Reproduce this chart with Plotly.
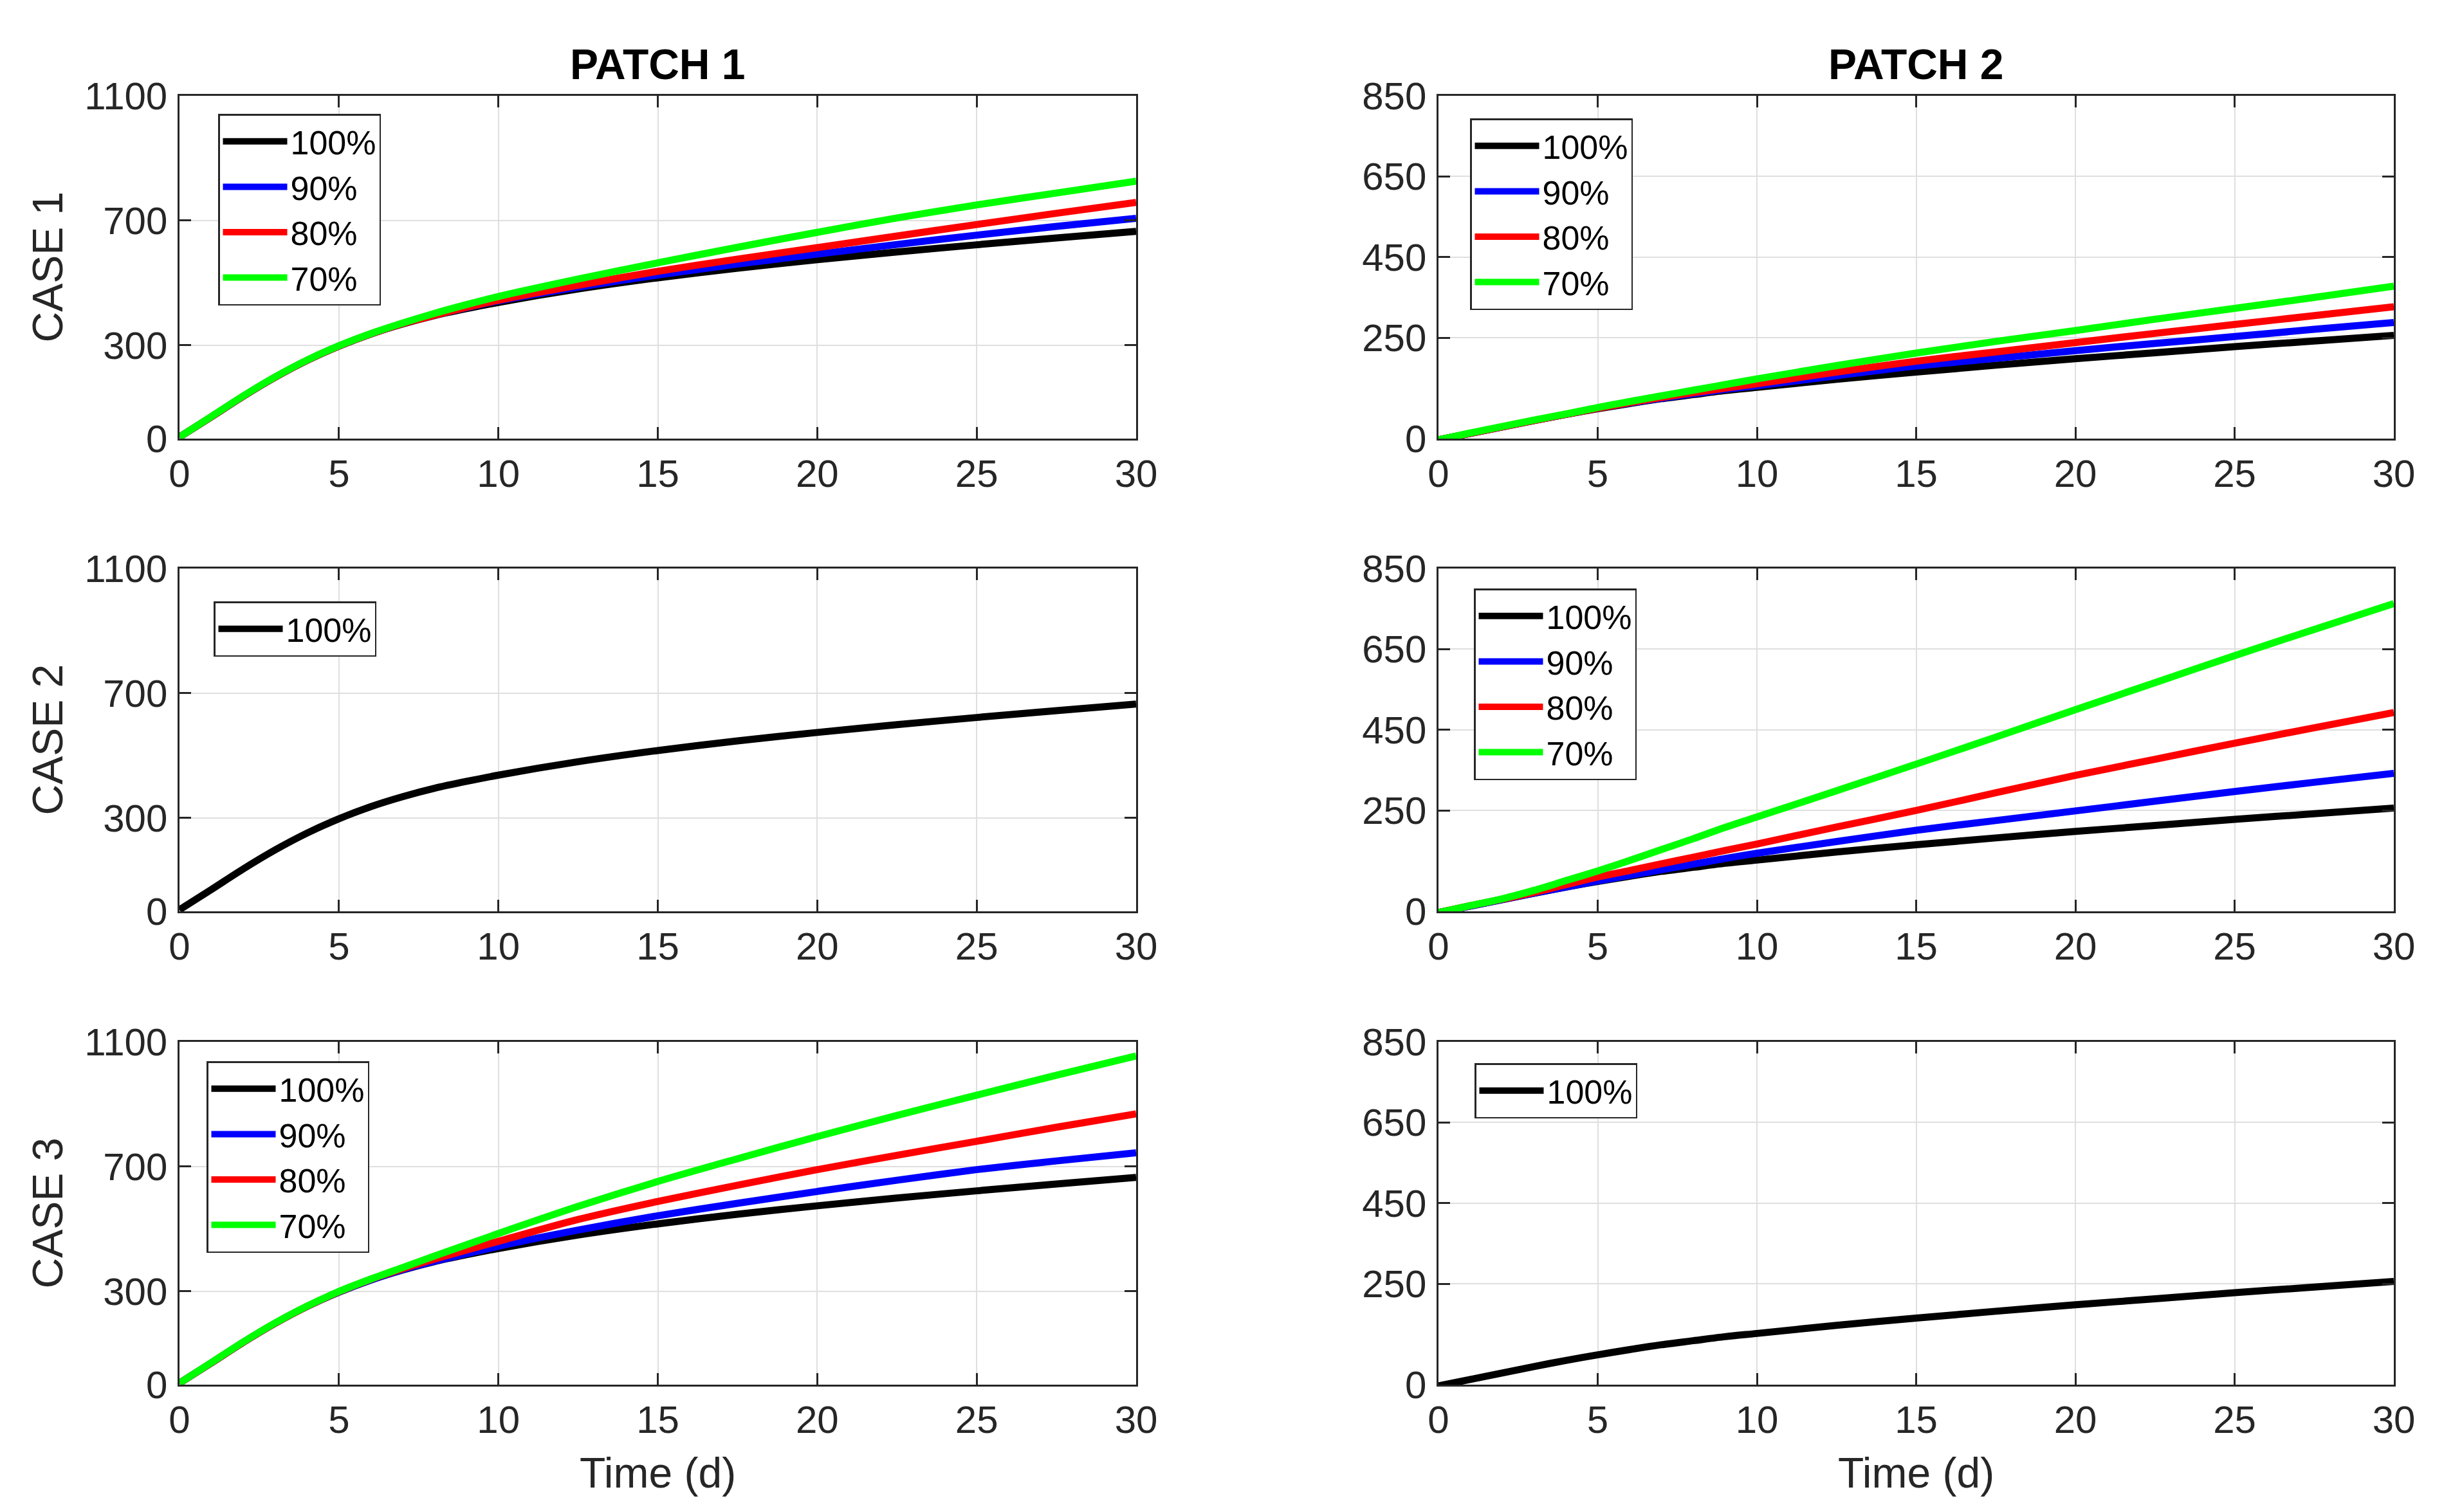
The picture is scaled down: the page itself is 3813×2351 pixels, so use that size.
import plotly.graph_objects as go

W, H = 3813, 2351
OFF = 8  # page body offset in px

time_d = [0, 1, 2, 3, 4, 5, 6, 7, 8, 9, 10, 12.5, 15, 17.5, 20, 22.5, 25, 27.5, 30]
labels = ["100%", "90%", "80%", "70%"]
colors = ["#000000", "#0000ff", "#ff0000", "#00ff00"]

# PATCH 1
p1_base = [5, 70, 136, 197, 251, 297, 336, 368, 395, 417, 437, 480, 516, 547, 574, 599, 622, 644, 665]
p1c1_90 = [5, 70, 136, 197, 251, 297, 336, 369, 396, 420, 442, 486, 525, 560, 592, 623, 653, 681, 707]
p1c1_80 = [5, 70, 136, 197, 251, 297, 336, 369, 396, 421, 444, 492, 537, 576, 613, 650, 687, 723, 758]
p1c1_70 = [5, 71, 137, 198, 252, 298, 337, 371, 402, 430, 456, 512, 564, 614, 662, 708, 750, 788, 826]
p1c3_90 = [5, 70, 136, 197, 251, 297, 336, 369, 396, 420, 444, 496, 542, 582, 620, 656, 690, 718, 744]
p1c3_80 = [5, 70, 136, 197, 251, 298, 338, 372, 403, 432, 460, 530, 588, 640, 690, 736, 781, 826, 869]
p1c3_70 = [5, 71, 137, 198, 252, 299, 339, 376, 413, 449, 485, 572, 652, 725, 796, 864, 929, 993, 1055]

# PATCH 2
p2_base = [-3, 13, 29, 45, 60, 74, 87, 99, 109, 119, 127, 147, 165, 182, 198, 213, 228, 242, 256]
p2c1_90 = [-3, 13, 29, 45, 60, 75, 88, 100, 111, 122, 131, 156, 180, 199, 218, 236, 253, 271, 288]
p2c1_80 = [-3, 13, 29, 45, 60, 75, 89, 102, 114, 125, 136, 165, 192, 215, 238, 261, 283, 305, 327]
p2c1_70 = [-3, 14, 30, 46, 61, 77, 92, 106, 120, 134, 148, 181, 212, 241, 268, 296, 323, 350, 378]
p2c2_90 = [-3, 13, 29, 45, 60, 75, 89, 103, 117, 131, 144, 173, 201, 225, 249, 273, 297, 320, 342]
p2c2_80 = [-3, 14, 30, 47, 66, 85, 101, 118, 134, 151, 167, 209, 250, 294, 337, 377, 417, 455, 493]
p2c2_70 = [-3, 14, 31, 52, 76, 100, 126, 153, 180, 208, 234, 299, 365, 432, 500, 567, 634, 699, 763]

p1_ticks = [0, 300, 700, 1100]
p2_ticks = [0, 250, 450, 650, 850]
x_ticks = [0, 5, 10, 15, 20, 25, 30]

panels = [
    (1, 1, [p1_base, p1c1_90, p1c1_80, p1c1_70]),
    (1, 2, [p2_base, p2c1_90, p2c1_80, p2c1_70]),
    (2, 1, [p1_base]),
    (2, 2, [p2_base, p2c2_90, p2c2_80, p2c2_70]),
    (3, 1, [p1_base, p1c3_90, p1c3_80, p1c3_70]),
    (3, 2, [p2_base]),
]

col_px = {1: (279, 1766), 2: (2236, 3721)}
row_px = {1: (149, 682), 2: (884, 1417), 3: (1620, 2153)}
legend_px = {
    (1, 1): (339, 177), (1, 2): (2285, 184),
    (2, 1): (332, 935), (2, 2): (2291, 915),
    (3, 1): (321, 1650), (3, 2): (2292, 1653),
}


def px(v):
    return (v - OFF) / W


def py(v):
    return 1 - (v - OFF) / H


FONT = "Liberation Sans, Arial, sans-serif"
AX = "#262626"

fig = go.Figure()
layout = dict(
    width=W, height=H,
    margin=dict(l=0, r=0, t=0, b=0, pad=0, autoexpand=False),
    paper_bgcolor="white", plot_bgcolor="white",
    font=dict(family=FONT, color=AX),
    annotations=[],
)

for i, (r, c, series) in enumerate(panels):
    k = i + 1
    xa = "x" if k == 1 else f"x{k}"
    ya = "y" if k == 1 else f"y{k}"
    lg = "legend" if k == 1 else f"legend{k}"
    for j, ys in enumerate(series):
        fig.add_trace(go.Scatter(
            x=time_d, y=ys, mode="lines", name=labels[j],
            line=dict(color=colors[j], width=11, shape="spline", smoothing=0.8),
            xaxis=xa, yaxis=ya, legend=lg, showlegend=True,
        ))
    x0, x1 = col_px[c]
    y0, y1 = row_px[r]
    common = dict(
        showline=True, mirror="ticks", linecolor=AX, linewidth=2.5,
        ticks="inside", ticklen=18, tickwidth=2.5, tickcolor=AX,
        showgrid=True, gridcolor="#dfdfdf", gridwidth=2, zeroline=False,
        tickfont=dict(family=FONT, size=60, color=AX),
        automargin=False,
    )
    layout["xaxis" if k == 1 else f"xaxis{k}"] = dict(
        common, domain=[px(x0), px(x1)], range=[0, 30], tickvals=x_ticks,
        anchor=ya,
    )
    yt = p1_ticks if c == 1 else p2_ticks
    layout["yaxis" if k == 1 else f"yaxis{k}"] = dict(
        common, domain=[py(y1), py(y0)], range=[yt[0], yt[-1]],
        tickvals=yt, anchor=xa, ticklabelstandoff=4,
    )
    lx, ly = legend_px[(r, c)]
    layout[lg] = dict(
        x=px(lx), y=py(ly), xanchor="left", yanchor="top",
        xref="paper", yref="paper",
        bgcolor="white", bordercolor=AX, borderwidth=2.5,
        font=dict(family=FONT, size=52, color="#000000"),
        itemwidth=100, tracegroupgap=0, entrywidth=262,
    )

for c, txt in [(1, "PATCH 1"), (2, "PATCH 2")]:
    x0, x1 = col_px[c]
    layout["annotations"].append(dict(
        text=f"<b>{txt}</b>", x=px((x0 + x1) / 2), y=py(100),
        xref="paper", yref="paper", showarrow=False,
        font=dict(family=FONT, size=66, color="#000000"),
        xanchor="center", yanchor="middle",
    ))
for r in (1, 2, 3):
    y0, y1 = row_px[r]
    layout["annotations"].append(dict(
        text=f"CASE {r}", x=px(73), y=py((y0 + y1) / 2),
        xref="paper", yref="paper", showarrow=False, textangle=-90,
        font=dict(family=FONT, size=66, color=AX),
        xanchor="center", yanchor="middle",
    ))
for c in (1, 2):
    x0, x1 = col_px[c]
    layout["annotations"].append(dict(
        text="Time (d)", x=px((x0 + x1) / 2), y=py(2290),
        xref="paper", yref="paper", showarrow=False,
        font=dict(family=FONT, size=66, color=AX),
        xanchor="center", yanchor="middle",
    ))

fig.update_layout(**layout)
fig.write_html("out.html")
